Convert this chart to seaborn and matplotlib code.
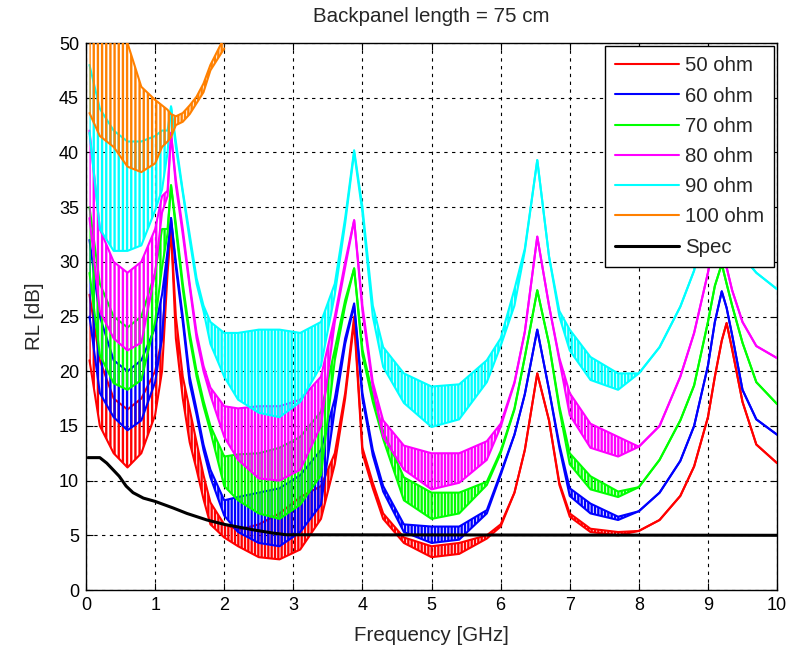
import numpy as np
import matplotlib
matplotlib.use('Agg')
import matplotlib.pyplot as plt
import seaborn as sns

# frequency grid [GHz] shared by the impedance curves
freq = [0.05, 0.2, 0.4, 0.6, 0.8, 1.0, 1.1, 1.18, 1.23, 1.3,
        1.4, 1.5, 1.6, 1.7, 1.8, 2.0, 2.2, 2.5, 2.8, 3.1,
        3.4, 3.6, 3.75, 3.88, 4.0, 4.15, 4.3, 4.6, 5.0, 5.4,
        5.8, 6.0, 6.2, 6.35, 6.53, 6.7, 6.85, 7.0, 7.3, 7.7,
        8.0, 8.3, 8.6, 8.8, 9.0, 9.1, 9.2, 9.27, 9.35, 9.5,
        9.7, 10.0]

# lower / upper edge of the ripple band of each curve [dB]
rl50_lo = [21, 15, 12.5, 11.2, 12.5, 16, 20, 29, 33, 23,
           17.5, 13.5, 11, 8.3, 6.0, 4.8, 4.0, 3.0, 2.8, 3.7,
           6.5, 11.5, 17.5, 24.5, 12.5, 9.3, 6.5, 4.3, 3.0, 3.3,
           4.7, 5.8, 8.9, 12.8, 19.8, 15.5, 9.6, 6.7, 5.3, 5.0,
           5.4, 6.4, 8.6, 11.3, 15.8, 19.5, 22.8, 24.4, 22.0, 17.2,
           13.3, 11.6]
rl50_hi = [27, 21, 17.5, 16.5, 17.5, 20, 23, 30, 33, 25,
           19.5, 16.5, 13.5, 10.5, 8.0, 6.0, 5.5, 6.0, 7.0, 8.5,
           9.5, 12.5, 18.0, 25.0, 13.0, 9.8, 7.0, 4.8, 4.0, 4.3,
           5.0, 6.0, 8.9, 12.8, 19.8, 15.5, 9.8, 7.0, 5.6, 5.3,
           5.4, 6.4, 8.6, 11.3, 15.8, 19.5, 22.8, 24.4, 22.0, 17.2,
           13.3, 11.6]

rl60_lo = [25, 18, 15.8, 14.6, 15.5, 19, 23, 30.5, 34, 29.5,
           24.5, 18.9, 16, 12.8, 10.3, 6.8, 5.3, 4.3, 4.0, 5.3,
           7.8, 16.5, 22.5, 26.0, 17.5, 12.3, 9.0, 5.3, 4.3, 4.6,
           7.0, 10.5, 14.2, 17.9, 23.8, 18.3, 13.0, 8.6, 7.0, 6.4,
           7.2, 8.9, 11.8, 15.0, 20.5, 24.5, 27.3, 25.8, 23.3, 18.3,
           15.6, 14.2]
rl60_hi = [32, 25, 21, 20, 21, 24, 27, 31, 34, 30,
           25, 19.5, 16.5, 13.3, 11, 8.2, 8.5, 8.9, 9.3, 10.5,
           12.8, 17.5, 23, 26.2, 18, 12.8, 9.5, 6.0, 5.8, 5.8,
           7.3, 10.7, 14.2, 17.9, 23.8, 18.3, 13.3, 9.3, 7.9, 6.7,
           7.2, 8.9, 11.8, 15.0, 20.5, 24.5, 27.3, 25.8, 23.3, 18.3,
           15.6, 14.2]

rl70_lo = [29, 21.5, 18.9, 18.3, 19.2, 24.5, 29.5, 32.6, 37, 33,
           27.5, 23, 19.5, 16.8, 14.5, 9.5, 8.2, 7.0, 6.5, 7.8,
           10.5, 21, 26, 29.4, 21.5, 17.2, 13.8, 8.2, 6.5, 7.0,
           9.6, 12.5, 16.5, 21.3, 27.4, 22.5, 16.5, 11.5, 9.2, 8.5,
           9.4, 11.9, 15.5, 18.7, 24.5, 27.8, 29.8, 28.0, 26.0, 22.6,
           19.0, 17.0]
rl70_hi = [35, 28, 25, 24, 25, 29, 33, 33, 37, 33.5,
           28, 23.5, 20, 17.3, 15, 12.2, 12.4, 12.5, 13, 14,
           16.3, 22, 26.5, 29.4, 22, 17.8, 14.5, 10.3, 8.9, 8.9,
           9.9, 12.7, 16.6, 21.3, 27.4, 22.5, 16.8, 12.5, 10.4, 9.0,
           9.4, 11.9, 15.5, 18.7, 24.5, 27.8, 29.8, 28.0, 26.0, 22.6,
           19.0, 17.0]

rl80_lo = [34, 25.5, 23, 21.9, 22.6, 29, 34.5, 36, 41.8, 37,
           32.5, 27.7, 23, 20, 17.8, 14, 11.9, 10.2, 10, 11,
           15, 24.5, 29.5, 33.8, 25.5, 18.5, 14, 11, 9.2, 9.8,
           11.9, 14.9, 18.9, 23.6, 32.3, 26, 21, 16, 13, 12.2,
           13.1, 15, 19.5, 23.5, 29, 32.5, 32, 29.5, 27.4, 24.5,
           22.3, 21.2]
rl80_hi = [42, 33, 30, 29, 30, 33, 36, 36.5, 41.8, 37.5,
           33, 28, 23.5, 20.5, 18.5, 16.8, 16.6, 16.8, 16.8, 17.4,
           19.5, 25, 30, 33.8, 26, 19, 15.5, 13.2, 12.5, 12.5,
           13.6, 15.2, 19, 23.6, 32.3, 26, 21.2, 18, 15.2, 14,
           13.1, 15, 19.5, 23.5, 29, 32.5, 32, 29.5, 27.4, 24.5,
           22.3, 21.2]

rl90_lo = [41.8, 33, 31, 31, 31.5, 34.7, 36.6, 40, 44.2, 40.5,
           36.3, 32, 28, 25.5, 22.5, 19.5, 17.4, 16.2, 15.8, 17.2,
           20.5, 27, 33.5, 40, 34.5, 25, 20.4, 17.1, 14.9, 15.6,
           19, 22.3, 26, 31, 39.3, 30.5, 25, 21.9, 19.2, 18.3,
           19.8, 22.2, 25.9, 29.2, 36, 38, 36, 34, 32.5, 30.5,
           29, 27.5]
rl90_hi = [48, 44, 42, 41, 41, 41.5, 42, 42, 44.2, 41,
           36.5, 32.5, 28.5, 26, 24.5, 23.5, 23.5, 23.8, 23.8, 23.5,
           24.5, 28, 34, 40.2, 35, 26, 22.2, 19.8, 18.6, 18.8,
           21, 23, 27.5, 31.2, 39.3, 30.5, 25.5, 23.8, 21.3, 19.8,
           19.8, 22.2, 25.9, 29.2, 36, 38, 36, 34, 32.5, 30.5,
           29, 27.5]

# 100 ohm leaves the plot at about 2 GHz (first 16 grid points)
rl100_lo = [43.6, 41.5, 40.5, 38.7, 38.2, 39, 40.5, 41, 41.4, 42.5,
            42.8, 43.5, 44.5, 45.5, 47.5, 49.5]
rl100_hi = [52, 52, 52, 50, 46, 44.8, 44.3, 43.9, 43.5, 43.3,
            43.6, 44.3, 45.1, 46.3, 48, 50.5]

spec_freq = [0.03, 0.2, 0.3, 0.48, 0.58, 0.68, 0.83, 1.0, 1.26, 1.46,
             1.75, 2.0, 2.42, 2.71, 2.9, 10.0]
spec_rl = [12.1, 12.1, 11.6, 10.4, 9.5, 8.9, 8.4, 8.1, 7.5, 7.0,
           6.4, 6.0, 5.5, 5.2, 5.05, 5.0]

labels = ['50 ohm', '60 ohm', '70 ohm', '80 ohm', '90 ohm', '100 ohm']
colors = ['#ff0000', '#0000ff', '#00ff00', '#ff00ff', '#00ffff', '#ff8000']
bands = [(rl50_lo, rl50_hi), (rl60_lo, rl60_hi), (rl70_lo, rl70_hi),
         (rl80_lo, rl80_hi), (rl90_lo, rl90_hi), (rl100_lo, rl100_hi)]

sns.set_style('ticks')
plt.rcParams['font.family'] = ['Liberation Sans', 'DejaVu Sans']
plt.rcParams['hatch.linewidth'] = 1.7

fig = plt.figure(figsize=(8.01, 6.48), dpi=100)
ax = fig.add_axes([0.1074, 0.0895, 0.8627, 0.8441])

f = np.array(freq)
for i, (name, color, (lo, hi)) in enumerate(zip(labels, colors, bands)):
    x = f[:len(lo)]
    lo = np.array(lo, dtype=float)
    hi = np.array(hi, dtype=float)
    z = 3 + i
    # ripple drawn as vertical hatching between the band edges
    ax.fill_between(x, lo, hi, where=x <= 1.23, facecolor='none', edgecolor=color,
                    hatch='||||', linewidth=0, zorder=z)
    ax.fill_between(x, lo, hi, where=x >= 1.23, facecolor='none', edgecolor=color,
                    hatch='|||||', linewidth=0, zorder=z)
    sns.lineplot(x=x, y=lo, color=color, lw=1.5, ax=ax, label=name,
                 estimator=None, sort=False, zorder=z)
    sns.lineplot(x=x, y=hi, color=color, lw=1.5, ax=ax,
                 estimator=None, sort=False, zorder=z)

sns.lineplot(x=spec_freq, y=spec_rl, color='black', lw=2.2, ax=ax, label='Spec',
             estimator=None, sort=False, zorder=10)

ax.set_xlim(0, 10)
ax.set_ylim(0, 50)
ax.set_xticks(range(0, 11))
ax.set_yticks(range(0, 51, 5))
ax.grid(True, color='black', linestyle=(0, (3, 4)), linewidth=0.8)
ax.set_axisbelow(True)
ax.tick_params(direction='in', top=True, right=True, length=5, labelsize=13,
               colors='black', pad=5)
for s in ax.spines.values():
    s.set_color('black')
    s.set_linewidth(1)

ax.set_xlabel('Frequency [GHz]', fontsize=14.8, labelpad=9)
ax.set_ylabel('RL [dB]', fontsize=14.8, labelpad=11)
ax.set_title('Backpanel length = 75 cm', fontsize=14.8, pad=15)

leg = ax.legend(loc='upper right', fancybox=False, edgecolor='black', framealpha=1,
                fontsize=14.7, handlelength=3.1, labelspacing=0.55, borderaxespad=0.15,
                borderpad=0.5, handletextpad=0.3)
leg.get_frame().set_linewidth(1)
leg.set_zorder(20)

fig.savefig('out.png', dpi=100)
